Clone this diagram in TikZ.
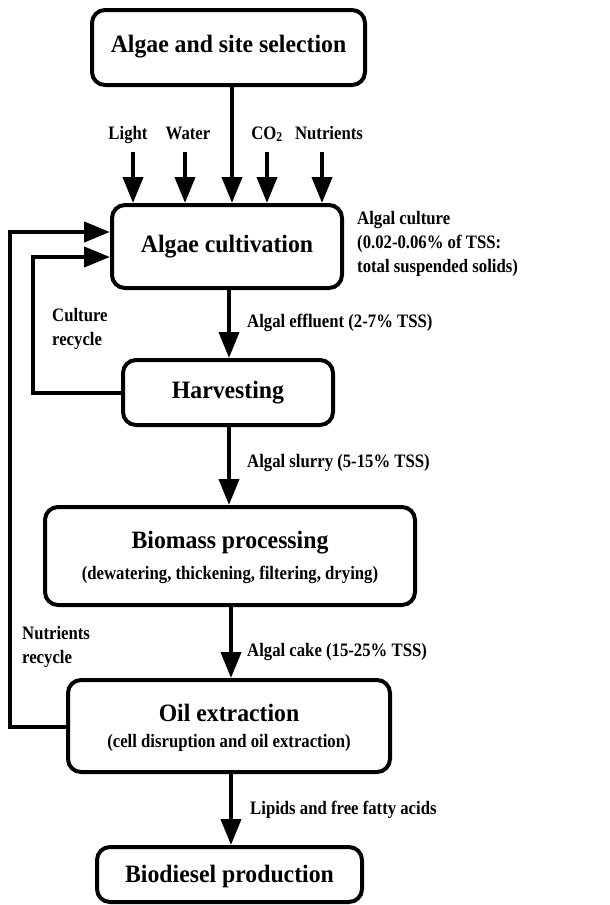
\documentclass[tikz,border=0pt]{standalone}
\usepackage{fontspec}
\setmainfont{Liberation Serif}
\newfontfamily\bigfam{Liberation Serif}[FakeStretch=0.95]
\newfontfamily\smallfam{Liberation Serif}[FakeStretch=0.88]
\usetikzlibrary{arrows.meta}
\begin{document}
\begin{tikzpicture}[x=1pt,y=-1pt,
  box/.style={draw,line width=4pt,rounded corners=13pt,inner sep=0pt},
  big/.style={font=\bigfam\fontsize{25}{28}\selectfont\bfseries,inner sep=0pt},
  small/.style={font=\smallfam\fontsize{19}{24}\selectfont\bfseries,inner sep=0pt},
  arr/.style={line width=4pt,-{Triangle[length=26pt,width=20pt]}}]
\useasboundingbox (0,0) rectangle (610,905);
% boxes
\node[box,minimum width=273pt,minimum height=75pt] (b1) at (228.5,47.5) {};
\node[box,minimum width=230pt,minimum height=83pt] (b2) at (227,246.5) {};
\node[box,minimum width=210pt,minimum height=65pt] (b3) at (228,392.5) {};
\node[box,minimum width=370pt,minimum height=98pt] (b4) at (230,556) {};
\node[box,minimum width=322pt,minimum height=92pt] (b5) at (229,726) {};
\node[box,minimum width=265pt,minimum height=55pt] (b6) at (229.5,874.5) {};
% box texts
\node[big] (t1) at (228.5,47) {Algae and site selection};
\node[big] (t2) at (227,247) {Algae cultivation};
\node[big] (t3) at (228,393) {Harvesting};
\node[big] (t4) at (230,543) {Biomass processing};
\node[small] (s4) at (230,575) {(dewatering, thickening, filtering, drying)};
\node[big] (t5) at (229,713) {Oil extraction};
\node[small] (s5) at (229,743) {(cell disruption and oil extraction)};
\node[big] (t6) at (229.5,876) {Biodiesel production};
% inputs
\node[small,anchor=base] (light) at (128,139) {Light};
\node[small,anchor=base] (water) at (188,139) {Water};
\node[small,anchor=base] (co2) at (267,139) {CO\textsubscript{2}};
\node[small,anchor=base] (nutr) at (329,139) {Nutrients};
\coordinate (iL) at (133,152);
\coordinate (iW) at (185,152);
\coordinate (iC) at (267,152);
\coordinate (iN) at (322,152);
\foreach \c in {iL,iW,iC,iN} \draw[arr] (\c) -- (\c |- b2.north);
% main flow
\draw[arr] (b1.south -| 232,0) -- (b2.north -| 232,0);
\draw[arr] (b2.south -| 229,0) -- (b3.north -| 229,0);
\draw[arr] (b3.south -| 229,0) -- (b4.north -| 229,0);
\draw[arr] (b4.south -| 231,0) -- (b5.north -| 231,0);
\draw[arr] (b5.south -| 231,0) -- (b6.north -| 231,0);
% recycles
\coordinate (o1) at (10,727);
\coordinate (o2) at (10,232);
\draw[arr] (b5.west |- o1) -- (o1) -- (o2) -- (b2.west |- o2);
\coordinate (c1) at (33,393);
\coordinate (c2) at (33,257);
\draw[arr] (b3.west |- c1) -- (c1) -- (c2) -- (b2.west |- c2);
% labels
\node[small,anchor=west,align=left] (lc) at (357,244) {Algal culture\\(0.02-0.06\% of TSS:\\total suspended solids)};
\node[small,anchor=west] (le) at (247,323) {Algal effluent (2-7\% TSS)};
\node[small,anchor=west,align=left] (lr) at (52,329) {Culture\\recycle};
\node[small,anchor=west] (ls) at (247,463) {Algal slurry (5-15\% TSS)};
\node[small,anchor=west,align=left] (ln) at (22,647) {Nutrients\\recycle};
\node[small,anchor=west] (lk) at (247,652) {Algal cake (15-25\% TSS)};
\node[small,anchor=west] (ll) at (250,810) {Lipids and free fatty acids};
\end{tikzpicture}
\end{document}
